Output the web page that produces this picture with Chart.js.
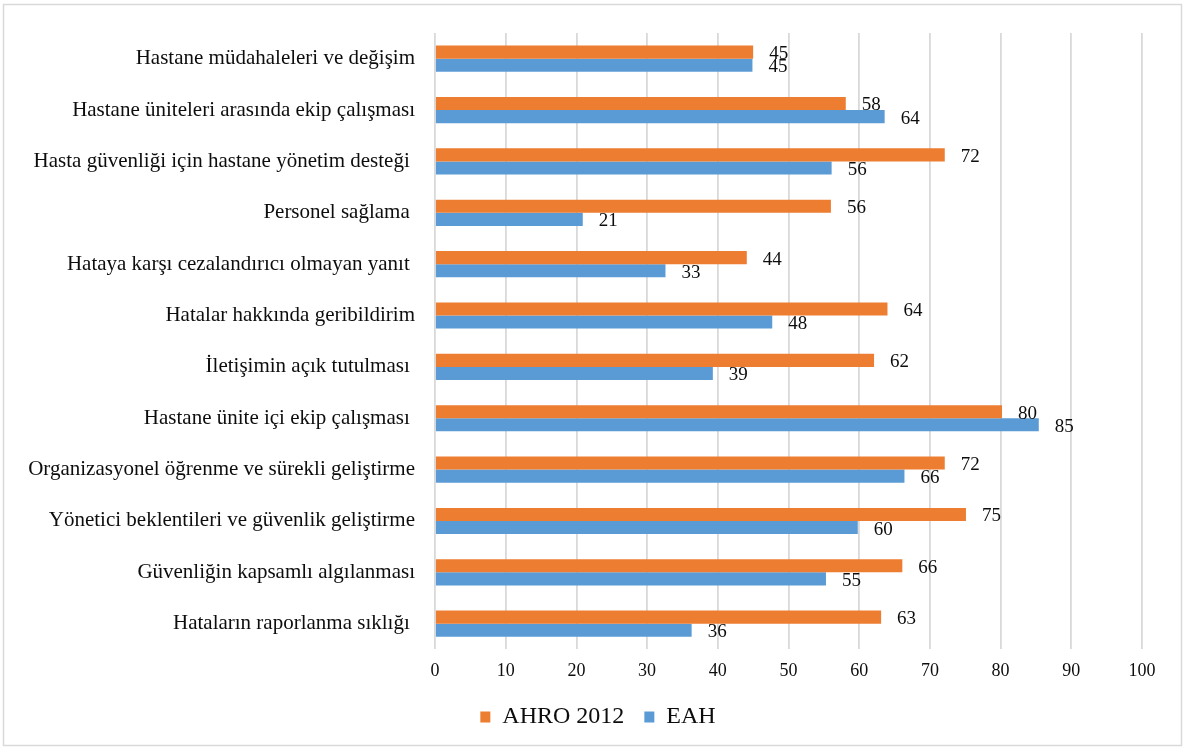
<!DOCTYPE html>
<html>
<head>
<meta charset="utf-8">
<script src="https://cdn.jsdelivr.net/npm/chart.js@4.4.1/dist/chart.umd.min.js"></script>
<style>
  html, body { margin: 0; padding: 0; background: #fff; }
  #wrap { width: 1184px; height: 749px; position: relative; }
</style>
</head>
<body>
<div id="wrap"><canvas id="c" width="1184" height="749"></canvas></div>
<script>
const categories = [
  "Hastane müdahaleleri ve değişim",
  "Hastane üniteleri arasında ekip çalışması",
  "Hasta güvenliği için hastane yönetim desteği ",
  "Personel sağlama ",
  "Hataya karşı cezalandırıcı olmayan yanıt ",
  "Hatalar hakkında geribildirim",
  "İletişimin açık tutulması ",
  "Hastane ünite içi ekip çalışması ",
  "Organizasyonel öğrenme ve sürekli geliştirme",
  "Yönetici beklentileri ve güvenlik geliştirme",
  "Güvenliğin kapsamlı algılanması",
  "Hataların raporlanma sıklığı "
];
const ahro2012 = [45.0, 58.1, 72.1, 56.0, 44.1, 64.0, 62.1, 80.2, 72.1, 75.1, 66.1, 63.1];
const eah      = [44.9, 63.6, 56.1, 20.9, 32.6, 47.7, 39.3, 85.4, 66.4, 59.8, 55.3, 36.3];
const seriesNames = ["AHRO 2012", "EAH"];
const xTicks = [0, 10, 20, 30, 40, 50, 60, 70, 80, 90, 100];

const FONT = "'Liberation Serif', 'Times New Roman', serif";
const TEXT = "#0d0d0d";

const bgBorder = {
  id: 'bgBorder',
  beforeDraw(chart) {
    const ctx = chart.ctx;
    ctx.save();
    ctx.fillStyle = '#ffffff';
    ctx.fillRect(0, 0, chart.width, chart.height);
    ctx.strokeStyle = '#d9d9d9';
    ctx.lineWidth = 1.5;
    ctx.strokeRect(3.5, 4.5, chart.width - 6, chart.height - 8);
    ctx.restore();
  }
};

// nudge the legend box so it sits where the reference legend sits
const legendShift = {
  id: 'legendShift',
  afterLayout(chart) {
    const lg = chart.legend;
    if (!lg) return;
    const dx = 27, dy = -8;
    lg.left += dx; lg.right += dx;
    lg.top += dy; lg.bottom += dy;
  }
};

const valueLabels = {
  id: 'valueLabels',
  afterDatasetsDraw(chart) {
    const ctx = chart.ctx;
    ctx.save();
    ctx.font = "19px " + FONT;
    ctx.fillStyle = TEXT;
    ctx.textAlign = 'left';
    ctx.textBaseline = 'middle';
    chart.data.datasets.forEach((ds, di) => {
      const meta = chart.getDatasetMeta(di);
      meta.data.forEach((bar, i) => {
        const v = ds.data[i];
        ctx.fillText(String(Math.round(v)), bar.x + 16, bar.y + 2);
      });
    });
    ctx.restore();
  }
};

new Chart(document.getElementById('c'), {
  type: 'bar',
  data: {
    labels: categories,
    datasets: [
      { label: seriesNames[0], data: ahro2012, backgroundColor: '#ED7D31', borderWidth: 0,
        barPercentage: 1.0, categoryPercentage: 0.51 },
      { label: seriesNames[1], data: eah, backgroundColor: '#5B9BD5', borderWidth: 0,
        barPercentage: 1.0, categoryPercentage: 0.51 }
    ]
  },
  options: {
    indexAxis: 'y',
    responsive: false,
    animation: false,
    devicePixelRatio: 1,
    layout: { padding: { left: 0, right: 42, top: 33, bottom: 2 } },
    plugins: {
      tooltip: { enabled: false },
      legend: {
        position: 'bottom',
        labels: {
          font: { family: FONT, size: 24 },
          color: TEXT,
          boxWidth: 10,
          boxHeight: 11,
          padding: 20
        }
      }
    },
    scales: {
      x: {
        min: 0, max: 100,
        afterBuildTicks(scale) { scale.ticks = xTicks.map(v => ({ value: v })); },
        ticks: { font: { family: FONT, size: 18 }, color: TEXT, padding: 11, maxRotation: 0 },
        grid: { color: '#d9d9d9', lineWidth: 1.8, drawTicks: false },
        border: { display: false }
      },
      y: {
        afterFit(scale) { scale.width = 435; },
        ticks: { font: { family: FONT, size: 21 }, color: TEXT, padding: 20, autoSkip: false },
        grid: { display: false, drawTicks: false },
        border: { display: false }
      }
    }
  },
  plugins: [bgBorder, legendShift, valueLabels]
});
</script>
</body>
</html>
